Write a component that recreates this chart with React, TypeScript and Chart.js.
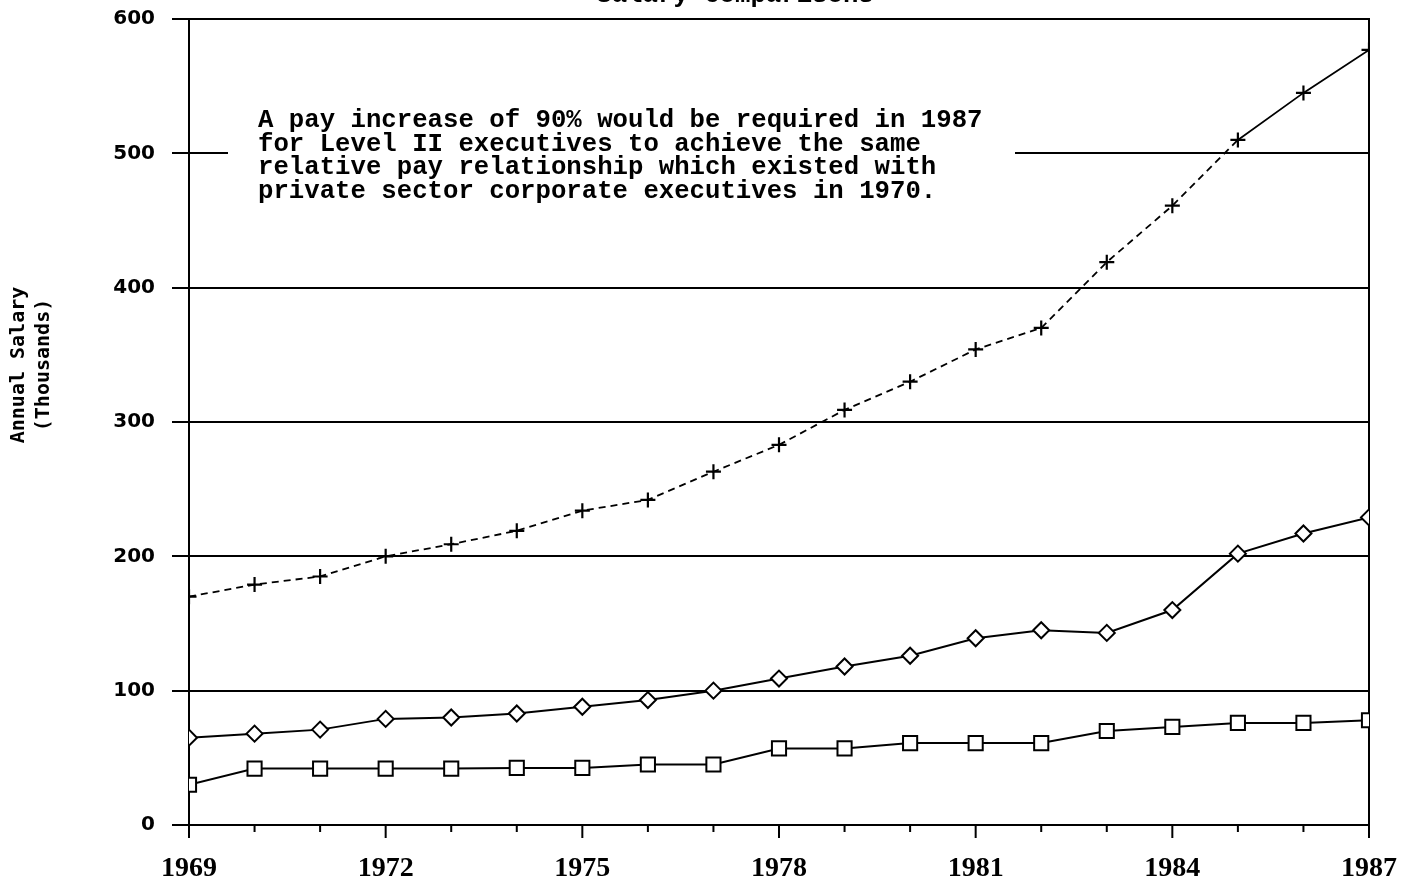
import React, { useEffect, useRef } from 'react';
import { Chart, registerables } from 'chart.js';

Chart.register(...registerables);

const years = [1969, 1970, 1971, 1972, 1973, 1974, 1975, 1976, 1977, 1978, 1979, 1980, 1981, 1982, 1983, 1984, 1985, 1986, 1987];
const xTickLabels = ['1969', '1972', '1975', '1978', '1981', '1984', '1987'];
const yMin = 0;
const yMax = 600;
const yStep = 100;

const corporateExecutives = [170, 179, 185, 200, 209, 219, 234, 242, 263, 283, 309, 330, 354, 370, 419, 461, 510, 545, 577];
const diamondSeries = [65, 68, 71, 79, 80, 83, 88, 93, 100, 109, 118, 126, 139, 145, 143, 160, 202, 217, 229];
const levelTwoSalary = [30, 42, 42, 42, 42, 42.5, 42.5, 45, 45, 57, 57, 61, 61, 61, 70, 73, 76, 76, 78];

const titleText = 'Salary Comparisons';
const yAxisTitleLines = ['Annual Salary', '(Thousands)'];
const annotationLines = [
  'A pay increase of 90% would be required in 1987',
  'for Level II executives to achieve the same',
  'relative pay relationship which existed with',
  'private sector corporate executives in 1970.',
];

const decorations = {
  id: 'decorations',
  beforeDatasetsDraw(chart: any) {
    const { ctx, chartArea, scales } = chart;
    const xs = scales.x;
    const ys = scales.y;
    ctx.save();
    // break in the 500 gridline behind the note
    const y500 = ys.getPixelForValue(500);
    ctx.fillStyle = '#ffffff';
    ctx.fillRect(228, y500 - 3, 1015 - 228, 6);

    // right border
    ctx.strokeStyle = '#000';
    ctx.lineWidth = 2;
    ctx.beginPath();
    ctx.moveTo(chartArea.right, chartArea.top - 1);
    ctx.lineTo(chartArea.right, chartArea.bottom);
    ctx.stroke();

    // x ticks
    ctx.beginPath();
    years.forEach((v) => {
      const x = xs.getPixelForValue(v);
      const major = xTickLabels.includes(String(v));
      ctx.moveTo(x, chartArea.bottom);
      ctx.lineTo(x, chartArea.bottom + (major ? 13 : 7));
    });
    ctx.stroke();

    // note text
    ctx.fillStyle = '#000';
    ctx.font = 'bold 25.7px "Liberation Mono"';
    ctx.textAlign = 'left';
    ctx.textBaseline = 'alphabetic';
    annotationLines.forEach((line, i) => {
      ctx.fillText(line, 258, 127 + i * 23.7);
    });

    // title (cut at top)
    ctx.textAlign = 'center';
    ctx.fillText(titleText, 735, 2);

    // y axis title
    ctx.font = 'bold 20px "DejaVu Sans Mono"';
    ctx.textBaseline = 'middle';
    const cx = [19, 44];
    yAxisTitleLines.forEach((line, i) => {
      ctx.save();
      ctx.translate(cx[i], 365);
      ctx.rotate(-Math.PI / 2);
      ctx.fillText(line, 0, 0);
      ctx.restore();
    });
    ctx.restore();
  },
};

function toPoints(vals: number[]) {
  return years.map((yr, i) => ({ x: yr, y: vals[i] }));
}

export default function App() {
  const canvasRef = useRef<HTMLCanvasElement | null>(null);

  useEffect(() => {
    document.body.style.margin = '0';
    document.body.style.background = '#fff';
    const canvas = canvasRef.current;
    if (!canvas) return;
    const chart = new Chart(canvas, {
      type: 'line',
      data: {
        datasets: [
          {
            label: 'Private sector corporate executives',
            data: toPoints(corporateExecutives),
            borderColor: '#000',
            borderWidth: 1.8,
            pointStyle: 'cross',
            pointRadius: 7.5,
            pointBorderWidth: 2.2,
            pointBorderColor: '#000',
            pointBackgroundColor: '#000',
            tension: 0,
            fill: false,
            segment: {
              borderDash: (ctx: any) => (ctx.p0DataIndex >= 16 ? [] : [7, 5]),
            },
          } as any,
          {
            label: 'Diamond series',
            data: toPoints(diamondSeries),
            borderColor: '#000',
            borderWidth: 2,
            pointStyle: 'rectRot',
            pointRadius: 8,
            pointBorderWidth: 2,
            pointBorderColor: '#000',
            pointBackgroundColor: '#fff',
            tension: 0,
            fill: false,
          },
          {
            label: 'Level II executives',
            data: toPoints(levelTwoSalary),
            borderColor: '#000',
            borderWidth: 2,
            pointStyle: 'rect',
            pointRadius: 10,
            pointBorderWidth: 2,
            pointBorderColor: '#000',
            pointBackgroundColor: '#fff',
            tension: 0,
            fill: false,
          },
        ],
      },
      options: {
        animation: false,
        responsive: true,
        maintainAspectRatio: false,
        events: [],
        layout: { padding: { top: 19, right: 43, left: 0, bottom: 0 } },
        plugins: {
          legend: { display: false },
          tooltip: { enabled: false },
          title: { display: false },
        },
        scales: {
          x: {
            type: 'linear',
            min: years[0],
            max: years[years.length - 1],
            afterFit: (s: any) => {
              s.height = 55;
              s.paddingLeft = 0;
              s.paddingRight = 0;
            },
            ticks: {
              stepSize: 1,
              autoSkip: false,
              maxRotation: 0,
              padding: 14,
              color: '#000',
              font: { family: '"Liberation Serif"', size: 28, weight: 'bold' },
              callback: (v: any) => (xTickLabels.includes(String(v)) ? String(v) : ''),
            },
            grid: {
              display: true,
              drawOnChartArea: false,
              drawTicks: true,
              tickLength: 13,
              tickColor: 'rgba(0,0,0,0)',
            },
            border: { display: true, color: '#000', width: 2 },
          },
          y: {
            min: yMin,
            max: yMax,
            afterFit: (s: any) => {
              s.width = 189;
              s.paddingTop = 0;
              s.paddingBottom = 0;
            },
            ticks: {
              stepSize: yStep,
              padding: 17,
              color: '#000',
              font: { family: '"DejaVu Sans"', size: 20, weight: 'bold' },
            },
            grid: {
              color: '#000',
              lineWidth: 2,
              drawTicks: true,
              tickLength: 17,
            },
            border: { display: true, color: '#000', width: 2 },
          },
        },
      },
      plugins: [decorations],
    } as any);
    return () => chart.destroy();
  }, []);

  return (
    <div style={{ position: 'fixed', left: 0, top: 0, width: 1412, height: 880, background: '#fff' }}>
      <canvas ref={canvasRef} />
    </div>
  );
}
